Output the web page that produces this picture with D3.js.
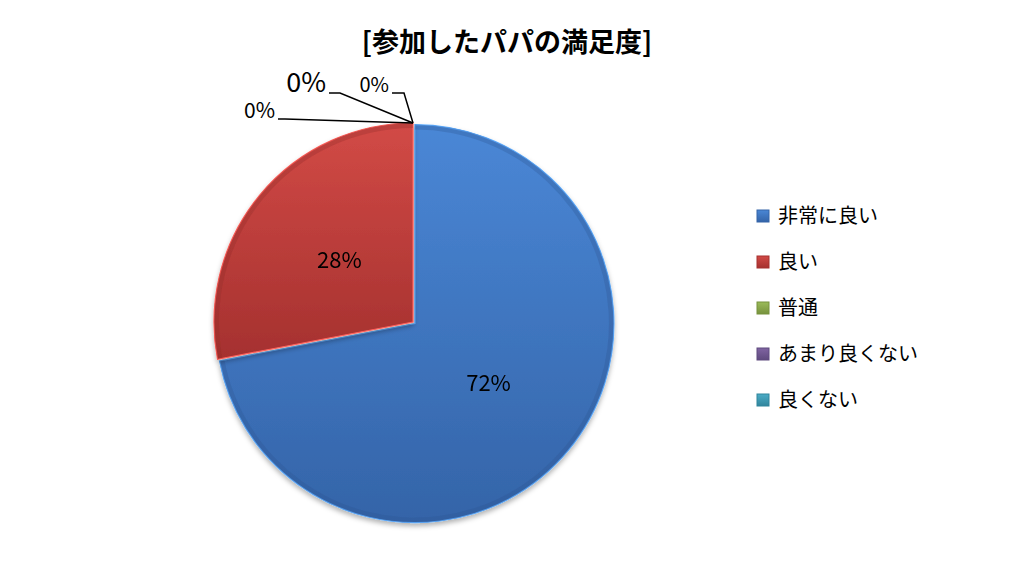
<!DOCTYPE html>
<html>
<head>
<meta charset="utf-8">
<script src="https://cdn.jsdelivr.net/npm/d3@7"></script>
<style>
  body { margin: 0; background: #fff; }
  svg { display: block; font-family: "Noto Sans CJK JP", "Noto Sans", sans-serif; }
</style>
</head>
<body>
<svg id="chart"></svg>
<script>
const categories = ['非常に良い', '良い', '普通', 'あまり良くない', '良くない'];
const values = [72, 28, 0, 0, 0];
const labels = ['72%', '28%', '0%', '0%', '0%'];
const colors = ['#4a87d6', '#d24a46', '#9bbb59', '#8064a2', '#4bacc6'];
const darkColors = ['#3464a8', '#a5312f', '#77923d', '#5f4a7e', '#31859c'];

const width = 1014, height = 577;
const cx = 413, cy = 322, radius = 199;

const svg = d3.select('#chart')
  .attr('width', width)
  .attr('height', height);

// Title
svg.append('text')
  .attr('x', 507)
  .attr('y', 52)
  .attr('text-anchor', 'middle')
  .attr('font-size', 27)
  .attr('font-weight', 'bold')
  .text('[参加したパパの満足度]');

// Gradients for slices and legend keys
const defs = svg.append('defs');
categories.forEach((c, i) => {
  const g = defs.append('linearGradient')
    .attr('id', 'grad' + i)
    .attr('x1', 0).attr('y1', 0).attr('x2', 0).attr('y2', 1);
  g.append('stop').attr('offset', '0%').attr('stop-color', colors[i]);
  g.append('stop').attr('offset', '100%').attr('stop-color', darkColors[i]);
});
const shadow = defs.append('filter').attr('id', 'shadow')
  .attr('x', '-10%').attr('y', '-10%').attr('width', '120%').attr('height', '125%');
shadow.append('feDropShadow')
  .attr('dx', 0).attr('dy', 3).attr('stdDeviation', 2.5)
  .attr('flood-color', '#000').attr('flood-opacity', 0.3);

const pie = d3.pie().sort(null).value(d => d);
const arcs = pie(values);
const arc = d3.arc().innerRadius(0).outerRadius(radius);
const bevel = d3.arc().innerRadius(radius - 5).outerRadius(radius);
const labelArc = d3.arc().innerRadius(radius * 0.48).outerRadius(radius * 0.48);

const g = svg.append('g').attr('transform', `translate(${cx},${cy})`);

// first slice is pulled out a little from the centre
const explode = [2.5, 0, 0, 0, 0];
const slice = g.selectAll('.slice')
  .data(arcs.filter(d => d.value > 0))
  .enter()
  .append('g')
  .attr('class', 'slice')
  .attr('filter', 'url(#shadow)')
  .attr('transform', d => {
    const a = (d.startAngle + d.endAngle) / 2;
    const e = explode[d.index];
    return `translate(${Math.sin(a) * e},${-Math.cos(a) * e})`;
  });

slice.append('path')
  .attr('d', arc)
  .attr('fill', d => `url(#grad${d.index})`)
  .attr('stroke', d => d3.color(colors[d.index]).brighter(0.7))
  .attr('stroke-width', 1.2);

slice.append('path')
  .attr('d', bevel)
  .attr('fill', d => d3.color(darkColors[d.index]).darker(0.4))
  .attr('opacity', 0.3);

// Labels for non-zero slices
slice.append('text')
  .attr('transform', d => `translate(${labelArc.centroid(d)})`)
  .attr('text-anchor', 'middle')
  .attr('dy', '0.3em')
  .attr('font-size', 22)
  .text(d => labels[d.index]);

// Zero slices: labels pulled out with leader lines
const zeroLabelOffsets = [
  { dx: -138, dy: -4, size: 21, elbow: -128 },
  { dx: -87, dy: -30, size: 27, elbow: -73 },
  { dx: -24, dy: -30, size: 20, elbow: -9 }
];
const zeroArcs = arcs.filter(d => d.value === 0);
zeroArcs.forEach((d, k) => {
  const o = zeroLabelOffsets[k];
  const px = Math.sin(d.startAngle) * radius;
  const py = -Math.cos(d.startAngle) * radius;
  const ly = py + o.dy;
  g.append('polyline')
    .attr('points', `${px + o.dx + 3},${ly} ${px + o.elbow},${ly} ${px},${py}`)
    .attr('fill', 'none')
    .attr('stroke', '#000')
    .attr('stroke-width', 1.5);
  g.append('text')
    .attr('x', px + o.dx)
    .attr('y', ly - 1)
    .attr('text-anchor', 'end')
    .attr('font-size', o.size)
    .text(labels[d.index]);
});

// Legend
const legend = svg.append('g').attr('transform', 'translate(757,216)');
const item = legend.selectAll('.item')
  .data(categories)
  .enter()
  .append('g')
  .attr('class', 'item')
  .attr('transform', (d, i) => `translate(0,${i * 46})`);

item.append('rect')
  .attr('x', 0).attr('y', -6)
  .attr('width', 12).attr('height', 12)
  .attr('fill', (d, i) => `url(#grad${i})`)
  .attr('stroke', (d, i) => darkColors[i])
  .attr('stroke-width', 1);

item.append('text')
  .attr('x', 21)
  .attr('y', 0)
  .attr('dy', '0.36em')
  .attr('font-size', 20)
  .text(d => d);
</script>
</body>
</html>
